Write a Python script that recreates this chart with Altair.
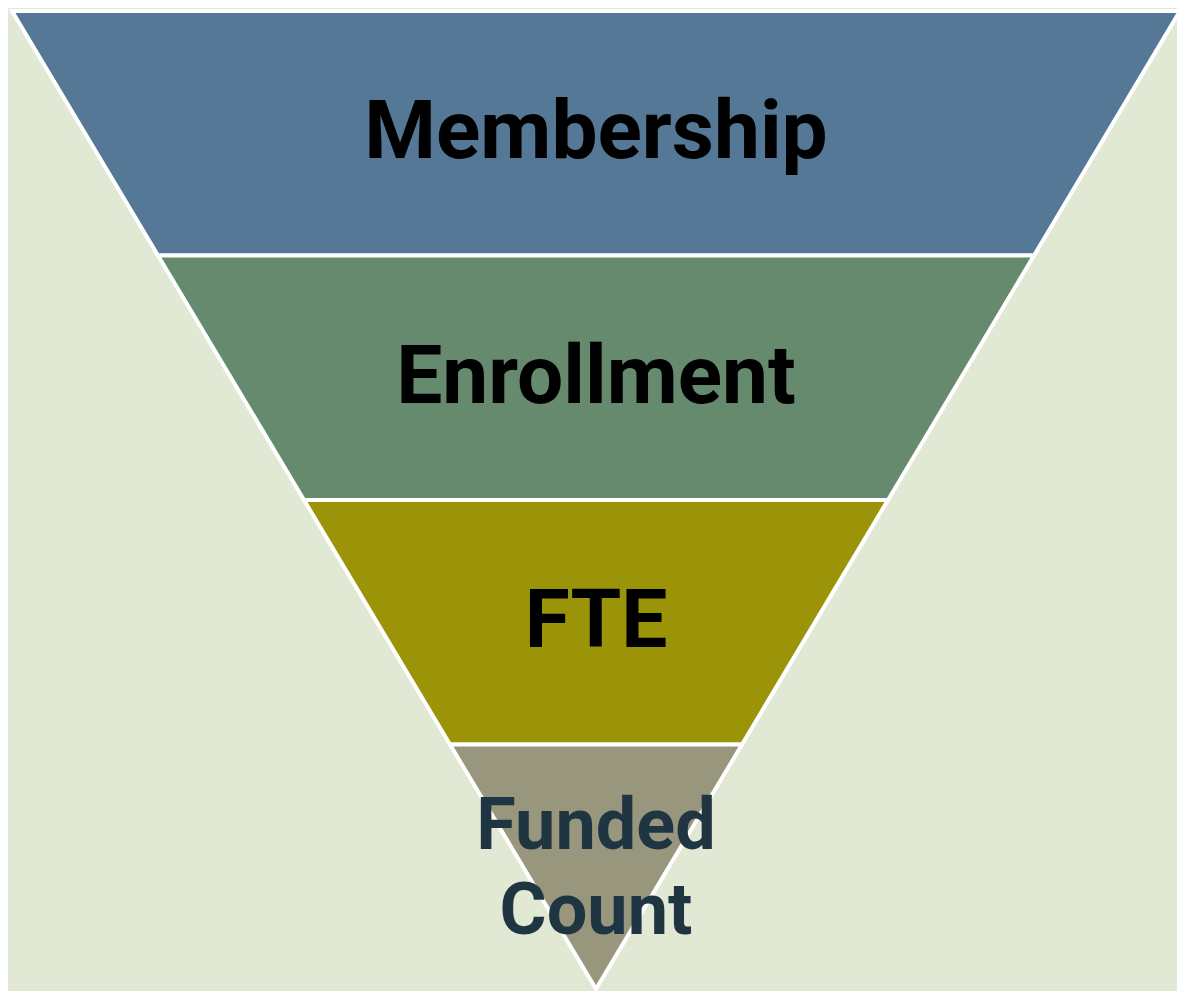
import altair as alt
import pandas as pd

# Funnel stages (top to bottom)
stages = ["Membership", "Enrollment", "FTE", "Funded Count"]
labels = ["Membership", "Enrollment", "FTE", "Funded\nCount"]
top_width = [1.0, 0.75, 0.5, 0.25]
bottom_width = [0.75, 0.5, 0.25, 0.0]
fill_colors = ["#547895", "#668a6e", "#9b9408", "#99967e"]

rows = []
for i, s in enumerate(stages):
    rows.append({"stage": s, "level": i, "left": -top_width[i] / 2, "right": top_width[i] / 2})
    rows.append({"stage": s, "level": i + 1, "left": -bottom_width[i] / 2, "right": bottom_width[i] / 2})
shapes = pd.DataFrame(rows)

text_df = pd.DataFrame({
    "stage": stages,
    "label": labels,
    "mid": [i + 0.5 for i in range(len(stages))],
    "x": [0.0] * len(stages),
})

xscale = alt.Scale(domain=[-0.503425, 0.497431], nice=False, zero=False)
yscale = alt.Scale(domain=[-0.0122, 4.0081], reverse=True, nice=False, zero=False)

areas = alt.Chart(shapes).mark_area(
    orient="horizontal", stroke="white", strokeWidth=4, opacity=1
).encode(
    y=alt.Y("level:Q", scale=yscale, axis=None),
    x=alt.X("left:Q", scale=xscale, axis=None),
    x2="right:Q",
    color=alt.Color("stage:N", scale=alt.Scale(domain=stages, range=fill_colors), legend=None),
    detail="stage:N",
)

font = "Roboto, Liberation Sans, sans-serif"

top_text = alt.Chart(text_df[text_df["stage"] != "Funded Count"]).mark_text(
    font=font, fontWeight="bold", fontSize=82, baseline="alphabetic", align="center", dy=25, color="#000000"
).encode(
    x=alt.X("x:Q", scale=xscale, axis=None),
    y=alt.Y("mid:Q", scale=yscale, axis=None),
    text="label:N",
)

bottom_text = alt.Chart(text_df[text_df["stage"] == "Funded Count"]).mark_text(
    font=font, fontWeight="bold", fontSize=72, baseline="alphabetic", align="center", dy=-18,
    lineBreak="\n", lineHeight=85, color="#1f3542"
).encode(
    x=alt.X("x:Q", scale=xscale, axis=None),
    y=alt.Y("mid:Q", scale=yscale, axis=None),
    text="label:N",
)

chart = alt.layer(areas, top_text, bottom_text).properties(
    width=1169,
    height=983,
    background="#e1e8d3",
    padding=0,
    autosize=alt.AutoSizeParams(type="none"),
).configure_view(stroke=None)

chart.save("out.html", embed_options={"renderer": "svg", "actions": False})
